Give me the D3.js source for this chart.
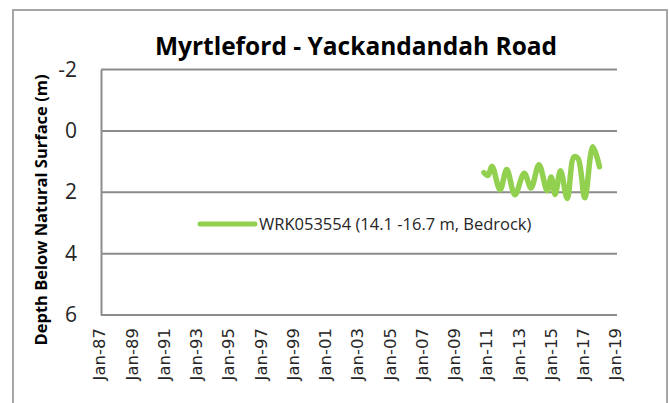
<!DOCTYPE html>
<html>
<head>
<meta charset="utf-8">
<script src="https://cdn.jsdelivr.net/npm/d3@7"></script>
<style>
  body { margin: 0; background: #fff; }
</style>
</head>
<body>
<div id="chart"></div>
<script>
// water level readings, depth below natural surface (m)
const dates = ["2010-10", "2011-01", "2011-04", "2011-10", "2012-03", "2012-09", "2013-04",
               "2013-09", "2014-03", "2014-09", "2014-12", "2015-03", "2015-07", "2015-12",
               "2016-05", "2016-08", "2017-01", "2017-07", "2017-12"];
const depths = [1.36, 1.45, 1.15, 1.92, 1.26, 2.08, 1.38,
                1.86, 1.10, 1.95, 1.50, 2.07, 1.30, 2.20,
                0.85, 0.90, 2.18, 0.52, 1.17];
const yTicks = [-2, 0, 2, 4, 6];
const xTickYears = d3.range(1987, 2020, 2);
const seriesName = "WRK053554 (14.1 -16.7 m, Bedrock)";

const parse = d3.timeParse("%Y-%m");
const data = dates.map((d, i) => ({date: parse(d), depth: depths[i]}));

const width = 669, height = 403;
const margin = {top: 69.5, left: 101, right: 52, bottom: 88};
const innerW = width - margin.left - margin.right;
const innerH = height - margin.top - margin.bottom;

const svg = d3.select("#chart").append("svg")
    .attr("width", width)
    .attr("height", height);

// outer chart frame
svg.append("rect")
    .attr("x", 13).attr("y", 10)
    .attr("width", 654).attr("height", 420)
    .attr("fill", "white")
    .attr("stroke", "#a6a6a6")
    .attr("stroke-width", 2);

const g = svg.append("g")
    .attr("transform", `translate(${margin.left}, ${margin.top})`);

const x = d3.scaleTime()
    .domain([new Date(1987, 0, 1), new Date(2019, 0, 1)])
    .range([0, innerW]);

const y = d3.scaleLinear()
    .domain([-2, 6])
    .range([0, innerH]);

// horizontal gridlines
g.append("g")
    .selectAll("line")
    .data(yTicks)
    .join("line")
    .attr("x1", 0).attr("x2", innerW)
    .attr("y1", d => y(d)).attr("y2", d => y(d))
    .attr("stroke", "#8c8c8c")
    .attr("stroke-width", 2);

// y axis
const yAxis = g.append("g")
    .call(d3.axisLeft(y).tickValues(yTicks).tickFormat(d => String(d))
        .tickSize(0).tickPadding(24));
yAxis.select(".domain").attr("stroke", "#8c8c8c").attr("stroke-width", 2);
yAxis.selectAll("text")
    .attr("font-family", "Open Sans, sans-serif")
    .attr("font-size", 21)
    .attr("fill", "#262626");

// x axis
const xAxis = g.append("g")
    .attr("transform", `translate(0, ${innerH})`)
    .call(d3.axisBottom(x)
        .tickValues(xTickYears.map(yr => new Date(yr, 0, 1)))
        .tickFormat(d3.timeFormat("Jan-%y"))
        .tickSize(0));
xAxis.select(".domain").remove();
xAxis.selectAll("text")
    .attr("font-family", "DejaVu Sans, sans-serif")
    .attr("font-size", 16.5)
    .attr("fill", "#262626")
    .attr("transform", "rotate(-90)")
    .attr("text-anchor", "end")
    .attr("x", -13)
    .attr("y", -2)
    .attr("dy", "0.35em");

// series line
const line = d3.line()
    .x(d => x(d.date))
    .y(d => y(d.depth))
    .curve(d3.curveCatmullRom);

g.append("path")
    .datum(data)
    .attr("d", line)
    .attr("fill", "none")
    .attr("stroke", "#92d050")
    .attr("stroke-width", 5.5)
    .attr("stroke-linejoin", "round")
    .attr("stroke-linecap", "round");

// legend
const legend = svg.append("g").attr("transform", "translate(200, 224)");
legend.append("line")
    .attr("x1", 0).attr("x2", 55)
    .attr("stroke", "#92d050")
    .attr("stroke-width", 5)
    .attr("stroke-linecap", "round");
legend.append("text")
    .attr("x", 59)
    .attr("dy", "0.35em")
    .attr("font-family", "Open Sans, sans-serif")
    .attr("font-size", 16.5)
    .attr("fill", "#262626")
    .text(seriesName);

// title
svg.append("text")
    .attr("x", 356)
    .attr("y", 55)
    .attr("text-anchor", "middle")
    .attr("font-family", "Open Sans, sans-serif")
    .attr("font-weight", "bold")
    .attr("font-size", 24.5)
    .attr("fill", "#000")
    .text("Myrtleford - Yackandandah Road");

// y axis title
svg.append("text")
    .attr("transform", "translate(47, 210) rotate(-90)")
    .attr("text-anchor", "middle")
    .attr("font-family", "Open Sans, sans-serif")
    .attr("font-weight", "bold")
    .attr("font-size", 16.5)
    .attr("fill", "#000")
    .text("Depth Below Natural Surface (m)");
</script>
</body>
</html>
